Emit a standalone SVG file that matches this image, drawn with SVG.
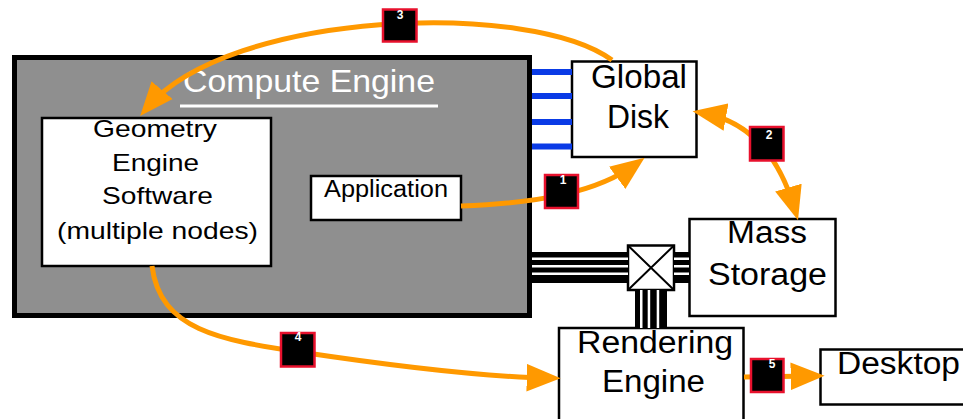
<svg xmlns="http://www.w3.org/2000/svg" width="963" height="419" viewBox="0 0 963 419">
<style>
.box{fill:#fff;stroke:#000;stroke-width:2.5}
.t{font-family:"Liberation Sans",Arial,sans-serif;fill:#000}
.arr{fill:none;stroke:#ff9900;stroke-width:5}
.lbl rect{fill:#000;stroke:#e8112d;stroke-width:2.5}
.lbl text{font-family:"Liberation Sans",Arial,sans-serif;font-size:12px;font-weight:bold;fill:#fff;text-anchor:middle}
.blue{stroke:#0a3be6;stroke-width:6}
</style>
<defs>
<marker id="ah" markerUnits="userSpaceOnUse" markerWidth="34" markerHeight="28" refX="22" refY="13" orient="auto-start-reverse" viewBox="0 0 32 26">
<path d="M0,0 L32,13 L0,26 Z" fill="#ff9900"/>
</marker>
</defs>
<rect width="963" height="419" fill="#fff"/>
<g id="compute-engine">
<rect x="14.5" y="57.5" width="515" height="258" fill="#8f8f8f" stroke="#000" stroke-width="5"/>
<text class="t" x="183" y="92" font-size="32" style="fill:#fff" textLength="252" lengthAdjust="spacingAndGlyphs">Compute Engine</text>
<line x1="180" y1="106" x2="438" y2="106" stroke="#fff" stroke-width="3"/>
</g>
<g id="geometry-engine">
<rect class="box" x="42" y="118" width="229" height="148"/>
<text class="t" x="93" y="137" font-size="24" textLength="124" lengthAdjust="spacingAndGlyphs">Geometry</text>
<text class="t" x="112" y="171" font-size="24" textLength="87" lengthAdjust="spacingAndGlyphs">Engine</text>
<text class="t" x="102" y="204" font-size="24" textLength="111" lengthAdjust="spacingAndGlyphs">Software</text>
<text class="t" x="57" y="239" font-size="24" textLength="201" lengthAdjust="spacingAndGlyphs">(multiple nodes)</text>
</g>
<g id="application">
<rect class="box" x="311" y="176" width="150" height="44" stroke-width="2"/>
<text class="t" x="324" y="197" font-size="23" textLength="124" lengthAdjust="spacingAndGlyphs">Application</text>
</g>
<g id="global-disk">
<rect class="box" x="572" y="61.5" width="124.5" height="95.5"/>
<text class="t" x="591" y="88" font-size="33" textLength="96" lengthAdjust="spacingAndGlyphs">Global</text>
<text class="t" x="607" y="128" font-size="33" textLength="62" lengthAdjust="spacingAndGlyphs">Disk</text>
</g>
<g id="mass-storage">
<rect class="box" x="689.5" y="219" width="146" height="97"/>
<text class="t" x="727" y="243" font-size="31" textLength="80" lengthAdjust="spacingAndGlyphs">Mass</text>
<text class="t" x="708" y="285" font-size="31" textLength="119" lengthAdjust="spacingAndGlyphs">Storage</text>
</g>
<g id="switch">
<rect class="box" x="628" y="245.5" width="46" height="44.5"/>
<path d="M628,245.5 L674,290 M674,245.5 L628,290" stroke="#000" stroke-width="2"/>
</g>
<g id="rendering-engine">
<rect class="box" x="559" y="328" width="184.5" height="100"/>
<text class="t" x="577" y="353" font-size="31" textLength="156" lengthAdjust="spacingAndGlyphs">Rendering</text>
<text class="t" x="602" y="392" font-size="31" textLength="103" lengthAdjust="spacingAndGlyphs">Engine</text>
</g>
<g id="desktop">
<rect class="box" x="820.5" y="349.5" width="150" height="55"/>
<text class="t" x="837" y="374" font-size="31" textLength="123" lengthAdjust="spacingAndGlyphs">Desktop</text>
</g>
<g id="connectors">
<line class="blue" x1="532" y1="72" x2="572" y2="72"/>
<line class="blue" x1="532" y1="96" x2="572" y2="96"/>
<line class="blue" x1="532" y1="122" x2="572" y2="122"/>
<line class="blue" x1="532" y1="146.5" x2="572" y2="146.5"/>
<g id="bus-left">
<rect x="532" y="252" width="96" height="31" fill="#000"/>
<rect x="532" y="257.5" width="96" height="2.5" fill="#fff"/>
<rect x="532" y="265" width="96" height="2.5" fill="#fff"/>
<rect x="532" y="272.5" width="96" height="2.5" fill="#fff"/>
</g>
<g id="bus-right">
<rect x="674" y="252" width="15" height="31" fill="#000"/>
<rect x="674" y="257.5" width="15" height="2.5" fill="#fff"/>
<rect x="674" y="265" width="15" height="2.5" fill="#fff"/>
<rect x="674" y="272.5" width="15" height="2.5" fill="#fff"/>
</g>
<g id="bus-down">
<rect x="635" y="290" width="32" height="38" fill="#000"/>
<rect x="640" y="290" width="2.5" height="38" fill="#fff"/>
<rect x="647.7" y="290" width="2.5" height="38" fill="#fff"/>
<rect x="656.7" y="290" width="2.5" height="38" fill="#fff"/>
</g>
<path class="arr" d="M461,206 C540,203 598,192 636,164" marker-end="url(#ah)"/>
<path class="arr" d="M703,113 Q770,125 795,210" marker-start="url(#ah)" marker-end="url(#ah)"/>
<path class="arr" d="M612,60 C530,0 230,10 147,108" marker-end="url(#ah)"/>
<path class="arr" d="M152,266 C160,330 220,340 300,352 S480,377 550,378" marker-end="url(#ah)"/>
<path class="arr" d="M744,377 L814,376" marker-end="url(#ah)"/>
</g>
<g id="labels">
<g class="lbl" id="label-1"><rect x="545" y="175" width="33" height="33"/><text x="563" y="184">1</text></g>
<g class="lbl" id="label-2"><rect x="750" y="127" width="33.5" height="33.5"/><text x="769" y="139">2</text></g>
<g class="lbl" id="label-3"><rect x="383" y="9.5" width="33.5" height="32"/><text x="400" y="19">3</text></g>
<g class="lbl" id="label-4"><rect x="281" y="333" width="33.5" height="33.5"/><text x="298" y="341">4</text></g>
<g class="lbl" id="label-5"><rect x="751" y="359" width="32.5" height="33"/><text x="772" y="368">5</text></g>
</g>
</svg>
